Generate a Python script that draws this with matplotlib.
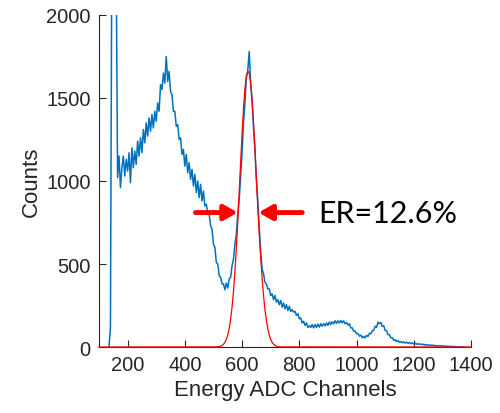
import numpy as np
import matplotlib
matplotlib.use("Agg")
import matplotlib.pyplot as plt

# ---------------- data ----------------
channel_start = 135
channel_step = 5
counts = [
    0, 120, 2500, 2600, 2500, 2300, 1020, 1150, 960, 1080,          # 135-180
    1150, 1030, 1130, 1060, 1170, 990, 1200, 1080, 1180, 1100,      # 185-230
    1240, 1150, 1260, 1170, 1310, 1230, 1350, 1270, 1380, 1300,     # 235-280
    1400, 1320, 1420, 1360, 1470, 1420, 1580, 1550, 1650, 1590,     # 285-330
    1750, 1600, 1660, 1540, 1520, 1420, 1420, 1330, 1340, 1250,     # 335-380
    1260, 1160, 1190, 1090, 1160, 1050, 1110, 1010, 1070, 970,      # 385-430
    1040, 930, 1000, 900, 980, 880, 940, 850, 860, 800,             # 435-480
    800, 730, 710, 620, 600, 510, 500, 430, 420, 380,               # 485-530
    380, 345, 385, 355, 410, 420, 490, 530, 620, 680,               # 535-580
    800, 890, 1030, 1170, 1350, 1470, 1620, 1670, 1780, 1590,       # 585-630
    1480, 1320, 1190, 1010, 880, 720, 570, 470, 440, 390,           # 635-680
    380, 350, 350, 310, 320, 285, 310, 270, 285, 255,               # 685-730
    280, 240, 265, 230, 255, 220, 245, 215, 225, 210,               # 735-780
    215, 190, 200, 170, 175, 145, 155, 130, 145, 118,               # 785-830
    128, 118, 135, 115, 135, 118, 138, 120, 140, 125,               # 835-880
    140, 128, 145, 130, 150, 135, 152, 140, 158, 142,               # 885-930
    158, 145, 160, 145, 158, 140, 148, 132, 140, 115,               # 935-980
    115, 95, 96, 80, 82, 66, 72, 56, 64, 55,                        # 985-1030
    70, 64, 82, 80, 98, 100, 125, 118, 150, 140,                    # 1035-1080
    148, 125, 128, 100, 98, 75, 75, 55, 56, 40,                     # 1085-1130
    44, 32, 38, 28, 33, 26, 31, 24, 29, 22,                         # 1135-1180
    27, 20, 25, 18, 23, 16, 21, 15, 19, 13,                         # 1185-1230
    17, 11, 15, 10, 13, 9, 12, 7, 10, 6,                            # 1235-1280
    9, 5, 8, 4, 7, 3, 6, 2, 5, 2,                                   # 1285-1330
    4, 1, 3, 1, 2, 0, 1, 0, 0,                                      # 1335-1375
]
channels = channel_start + channel_step * np.arange(len(counts))

# Gaussian fit curve
fit_x = [100, 510, 515, 520, 525, 530, 535, 540, 545, 550, 555, 560, 565, 570,
         575, 580, 585, 590, 595, 600, 605, 610, 615, 620, 622, 625, 630, 635,
         640, 645, 650, 655, 660, 665, 670, 675, 680, 685, 690, 695, 700, 705,
         710, 715, 720, 725, 730, 735, 1400]
fit_y = [0, 0.7, 1.5, 2.8, 5.2, 9.5, 16.6, 28, 46, 73, 112, 167, 241, 337,
         456, 598, 760, 935, 1114, 1286, 1438, 1557, 1634, 1657, 1660, 1650,
         1590, 1490, 1350, 1190, 1010, 840, 680, 540, 415, 310, 225, 160, 110,
         72, 46, 28, 17, 9.5, 5.2, 2.8, 1.5, 0.7, 0]

x_ticks = [200, 400, 600, 800, 1000, 1200, 1400]
y_ticks = [0, 500, 1000, 1500, 2000]
er_label = "ER=12.6%"

# ---------------- plot ----------------
plt.rcParams['font.family'] = ['Liberation Sans', 'DejaVu Sans']
fig = plt.figure(figsize=(5.0, 4.14), dpi=100)
ax = fig.add_axes([0.198, 0.1594, 0.744, 0.802])

blue = (0, 0.447, 0.741)
ax.plot(channels, counts, color=blue, lw=1.1, zorder=2)
ax.plot(fit_x, fit_y, color=(1, 0, 0), lw=0.9, zorder=3, clip_on=False)

ax.set_xlim(100, 1400)
ax.set_ylim(0, 2000)
ax.set_xticks(x_ticks)
ax.set_yticks(y_ticks)

axcol = '#262626'
for s in ['top', 'right']:
    ax.spines[s].set_visible(False)
for s in ['left', 'bottom']:
    ax.spines[s].set_color(axcol)
    ax.spines[s].set_linewidth(0.8)
ax.tick_params(direction='in', length=5, width=0.8, colors=axcol,
               labelsize=14.5, labelcolor=axcol, pad=6)

ax.set_xlabel('Energy ADC Channels', fontsize=16, color=axcol, labelpad=3)
ax.set_ylabel('Counts', fontsize=16, color=axcol, labelpad=3)

# FWHM arrows at half maximum of the fit
fx = np.array(fit_x, dtype=float)
fy = np.array(fit_y, dtype=float)
half = fy.max() / 2
ipk = int(np.argmax(fy))
left_x = np.interp(half, fy[:ipk + 1], fx[:ipk + 1])
right_x = np.interp(half, fy[ipk:][::-1], fx[ipk:][::-1])

arrow_kw = dict(arrowstyle='-|>,head_length=0.8,head_width=0.45',
                color='red', lw=3.5, shrinkA=0, shrinkB=0)
ax.annotate('', xy=(left_x - 2, half - 20), xytext=(left_x - 150, half - 20),
            arrowprops=arrow_kw)
ax.annotate('', xy=(right_x + 2, half - 20), xytext=(right_x + 155, half - 20),
            arrowprops=arrow_kw)
ax.text(right_x + 212, half - 20, er_label, fontsize=22, family='Lato',
        va='center', ha='left', color='black')

fig.savefig('out.png', dpi=100)
